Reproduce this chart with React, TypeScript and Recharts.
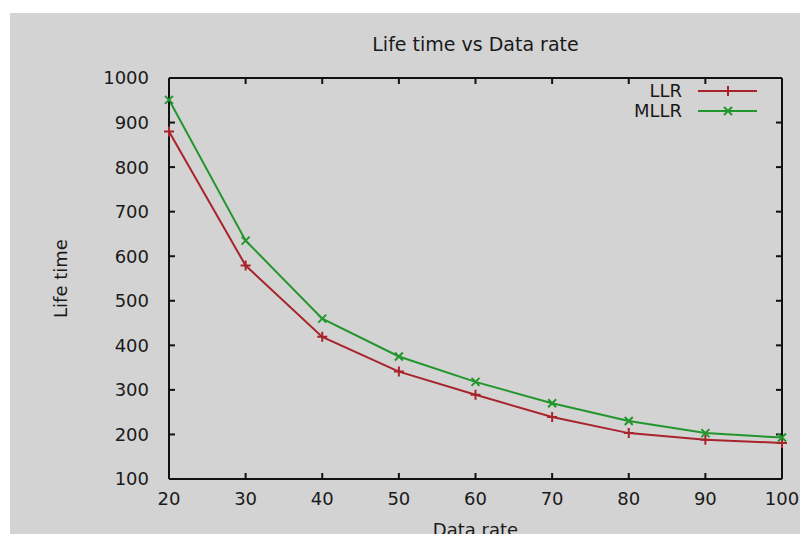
import { LineChart, Line, XAxis, YAxis, Legend, Label } from 'recharts';

const dataRate = [20, 30, 40, 50, 60, 70, 80, 90, 100];
const llr = [880, 579, 419, 341, 289, 239, 203, 188, 181];
const mllr = [951, 635, 460, 375, 318, 270, 230, 203, 193];
const xTicks = [20, 30, 40, 50, 60, 70, 80, 90, 100];
const yTicks = [100, 200, 300, 400, 500, 600, 700, 800, 900, 1000];

const rows = dataRate.map((x, i) => ({ x, LLR: llr[i], MLLR: mllr[i] }));

const RED = '#a8242c';
const GREEN = '#22962c';
const INK = '#1a1a1a';
const FONT = '"DejaVu Sans", Verdana, sans-serif';
const frame = { stroke: '#111', strokeWidth: 2 };

// mirrored axes: tick marks only, no labels
const NoLabel = () => <g />;

const PlusDot = (props: any) => {
  const { cx, cy, stroke } = props;
  if (cx == null || cy == null) return <g />;
  return <path d={`M${cx - 5},${cy}h10M${cx},${cy - 5}v10`} stroke={stroke} strokeWidth={2} fill="none" />;
};

const CrossDot = (props: any) => {
  const { cx, cy, stroke } = props;
  if (cx == null || cy == null) return <g />;
  return <path d={`M${cx - 4},${cy - 4}l8,8M${cx - 4},${cy + 4}l8,-8`} stroke={stroke} strokeWidth={2} fill="none" />;
};

const YLabel = (props: any) => {
  const { viewBox } = props;
  const cx = viewBox.x + 50;
  const cy = viewBox.y + viewBox.height / 2;
  return (
    <text x={cx} y={cy} transform={`rotate(-90 ${cx} ${cy})`} textAnchor="middle" dominantBaseline="central"
      fontSize={18} fill={INK} fontFamily={FONT}>Life time</text>
  );
};

const KeyBox = (props: any) => {
  const items = props.payload || [];
  return (
    <div style={{ fontFamily: FONT, fontSize: 18, color: INK }}>
      {items.map((it: any) => (
        <div key={it.value} style={{ display: 'flex', alignItems: 'center', height: 20 }}>
          <span style={{ width: 112, textAlign: 'right', lineHeight: '20px' }}>{it.value}</span>
          <svg width={75} height={20} style={{ marginLeft: 16 }}>
            <line x1={0} y1={10} x2={59} y2={10} stroke={it.color} strokeWidth={2} />
            {it.value === 'LLR'
              ? <PlusDot cx={30} cy={10} stroke={it.color} />
              : <CrossDot cx={30} cy={10} stroke={it.color} />}
          </svg>
        </div>
      ))}
    </div>
  );
};

export default function App() {
  return (
    <div style={{ position: 'absolute', left: 0, top: 0, width: 800, height: 534, background: '#fff', overflow: 'hidden' }}>
      <div style={{ position: 'absolute', left: 10, top: 13, width: 790, height: 521, background: '#d3d3d3' }}>
        <LineChart width={790} height={521} data={rows} margin={{ top: 64, right: 17, bottom: 0, left: 0 }}
          style={{ fontFamily: FONT }}>
          <XAxis dataKey="x" type="number" domain={[20, 100]} ticks={xTicks} height={55}
            axisLine={frame} tickLine={frame}
            tickSize={-6} tickMargin={19} tick={{ fontSize: 18, fill: INK }}>
            <Label value="Data rate" position="insideBottom" offset={-2} fontSize={18} fill={INK} />
          </XAxis>
          <XAxis xAxisId="top" orientation="top" dataKey="x" type="number" domain={[20, 100]} ticks={xTicks}
            height={1} tick={NoLabel} axisLine={frame} tickLine={frame} tickSize={-6}>
            <Label value="Life time vs Data rate" position="top" offset={26} fontSize={19} fill={INK} />
          </XAxis>
          <YAxis type="number" domain={[100, 1000]} ticks={yTicks} width={159}
            axisLine={frame} tickLine={frame}
            tickSize={-6} tickMargin={26} tick={{ fontSize: 18, fill: INK }}>
            <Label content={YLabel} />
          </YAxis>
          <YAxis yAxisId="right" orientation="right" type="number" domain={[100, 1000]} ticks={yTicks} width={1}
            tick={NoLabel} axisLine={frame} tickLine={frame} tickSize={-6} />
          <Legend layout="horizontal" verticalAlign="middle" align="center" content={KeyBox}
            wrapperStyle={{ top: 68, left: 560, width: 220, bottom: 'auto', right: 'auto' }} />
          <Line type="linear" dataKey="LLR" name="LLR" stroke={RED} strokeWidth={2}
            dot={<PlusDot />} activeDot={false} isAnimationActive={false} />
          <Line type="linear" dataKey="MLLR" name="MLLR" xAxisId="top" yAxisId="right" stroke={GREEN} strokeWidth={2}
            dot={<CrossDot />} activeDot={false} isAnimationActive={false} />
        </LineChart>
      </div>
    </div>
  );
}
